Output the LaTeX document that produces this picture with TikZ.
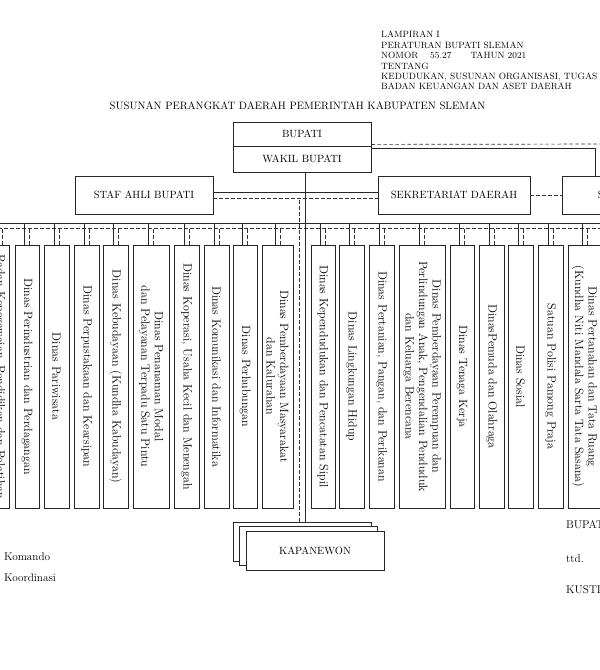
\documentclass[tikz,border=0pt]{standalone}

\tikzset{
  kotak/.style={draw=black!85, line width=0.8pt, fill=white, inner sep=0pt,
    font=\fontsize{10.5}{12}\selectfont},
  dinas/.style={draw=black!85, line width=0.8pt, fill=white, rotate=-90, inner sep=0pt,
    minimum width=263pt, align=center, font=\fontsize{12}{13.5}\selectfont},
  komando/.style={black!85, line width=0.8pt},
  koord/.style={black!80, line width=0.7pt, dash pattern=on 3.5pt off 2.5pt},
  kepala/.style={anchor=base west, inner sep=0pt, font=\fontsize{9.1}{10.4}\selectfont},
  ket/.style={anchor=base west, inner sep=0pt, font=\fontsize{11.2}{13}\selectfont},
}

\begin{document}
\begin{tikzpicture}[x=1pt, y=-1pt]
    \useasboundingbox (0,0) rectangle (600,670);
    \clip (0,0) rectangle (600,670);
    \fill[white] (0,0) rectangle (600,670);

    % kop
    \foreach \baris [count=\j] in {LAMPIRAN I, PERATURAN BUPATI SLEMAN,
        {NOMOR\hspace{12pt}55.27\hspace{19pt}TAHUN 2021}, TENTANG,
        {KEDUDUKAN, SUSUNAN ORGANISASI, TUGAS}, BADAN KEUANGAN DAN ASET DAERAH}
        \node[kepala] (kop\j) at (381,27.5+10.4*\j) {\baris};
    \node[inner sep=0pt, font=\fontsize{10.7}{12}\selectfont] (judul) at (297.5,106)
        {SUSUNAN PERANGKAT DAERAH PEMERINTAH KABUPATEN SLEMAN};

    % pimpinan
    \node[kotak, minimum width=138pt, minimum height=24pt] (bupati) at (302,134) {BUPATI};
    \node[kotak, minimum width=138pt, minimum height=26pt] (wakil) at (302,159) {WAKIL BUPATI};
    \node[kotak, minimum width=138pt, minimum height=38pt] (staf) at (144,195) {STAF AHLI BUPATI};
    \node[kotak, minimum width=152pt, minimum height=38pt] (sekda) at (454,195) {SEKRETARIAT DAERAH};
    \node[kotak, minimum width=183pt, minimum height=38pt] (dprd) at (653.5,195) {SEKRETARIAT DPRD};

    \node[kotak, minimum width=138pt, minimum height=39pt] (kap1) at (302,541.5) {};
    \node[kotak, minimum width=138pt, minimum height=39pt] (kap2) at (308.5,546) {};
    \node[kotak, minimum width=138pt, minimum height=39pt] (kap3) at (315,550.5) {KAPANEWON};

    \coordinate (kanan) at (620,144);
    \coordinate (garisK) at ([yshift=-3.5pt]staf.east);
    \coordinate (busKw) at (-20,223.5);
    \coordinate (busKe) at (620,223.5);
    \coordinate (busCw) at (-20,228.5);
    \coordinate (busCe) at (620,228.5);

    \draw[koord] ([yshift=2pt]bupati.south east) -- (kanan);
    \draw[komando] ([yshift=-2.5pt]wakil.north east) -| ([xshift=34pt]dprd.north west);
    \draw[komando] ([yshift=2.5pt]staf.east) -- ([yshift=2.5pt]sekda.west);
    \draw[koord] (garisK) -- ([yshift=-3.5pt]sekda.west);
    \draw[koord] (sekda.east) -- (dprd.west);
    \draw[komando] ([xshift=3pt]wakil.south) -- ([xshift=3pt]kap1.north);
    \draw[koord] ([xshift=-3pt]kap1.north) -- ([xshift=-3pt]kap1.north |- garisK);
    \draw[komando] (busKw) -- (busKe);
    \draw[koord] (busCw) -- (busCe);

    % perangkat daerah
    \foreach \cx/\lebar/\nama [count=\i] in {
        -0.5/19pt/{Badan Kepegawaian, Pendidikan dan Pelatihan},
        27/24pt/{Dinas Perindustrian dan Perdagangan},
        56.5/25pt/{Dinas Pariwisata},
        86.5/25pt/{Dinas Perpustakaan dan Kearsipan},
        115.5/25pt/{Dinas Kebudayaan (Kundha Kabudayan)},
        151/36pt/{Dinas Penanaman Modal\\dan Pelayanan Terpadu Satu Pintu},
        186.5/25pt/{Dinas Koperasi, Usaha Kecil dan Menengah},
        216.5/25pt/{Dinas Komunikasi dan Informatika},
        245/24pt/{Dinas Perhubungan},
        277.5/31pt/{Dinas Pemberdayaan Masyarakat\\dan Kalurahan},
        323/24pt/{Dinas Kependudukan dan Pencatatan Sipil},
        351.5/25pt/{Dinas Lingkungan Hidup},
        381.5/25pt/{Dinas Pertanian, Pangan, dan Perikanan},
        422/46pt/{Dinas Pemberdayaan Perempuan dan\\Perlindungan Anak, Pengendalian Penduduk\\dan Keluarga Berencana},
        462/24pt/{Dinas Tenaga Kerja},
        491.5/25pt/{DinasPemuda dan Olahraga},
        520.5/25pt/{Dinas Sosial},
        550.5/25pt/{Satuan Polisi Pamong Praja},
        584.5/33pt/{Dinas Pertanahan dan Tata Ruang\\(Kundha Niti Mandala Sarta Tata Sasana)}}
    {
        \node[dinas, minimum height=\lebar] (d\i) at (\cx,376.5) {\nama};
        \draw[komando] ([xshift=-2.5pt]d\i.west) -- ([xshift=-2.5pt]d\i.west |- busKw);
        \draw[koord] ([xshift=2.5pt]d\i.west) -- ([xshift=2.5pt]d\i.west |- busCw);
    }

    % keterangan
    \node[ket] (lgK) at (-25.5,560) {Garis Komando};
    \node[ket] (lgC) at (-25.5,581) {Garis Koordinasi};
    \node[ket] (ttdJ) at (566,528) {BUPATI SLEMAN,};
    \node[ket] (ttdT) at (566,562) {ttd.};
    \node[ket] (ttdN) at (566,593) {KUSTINI SRI PURNOMO};
\end{tikzpicture}
\end{document}
